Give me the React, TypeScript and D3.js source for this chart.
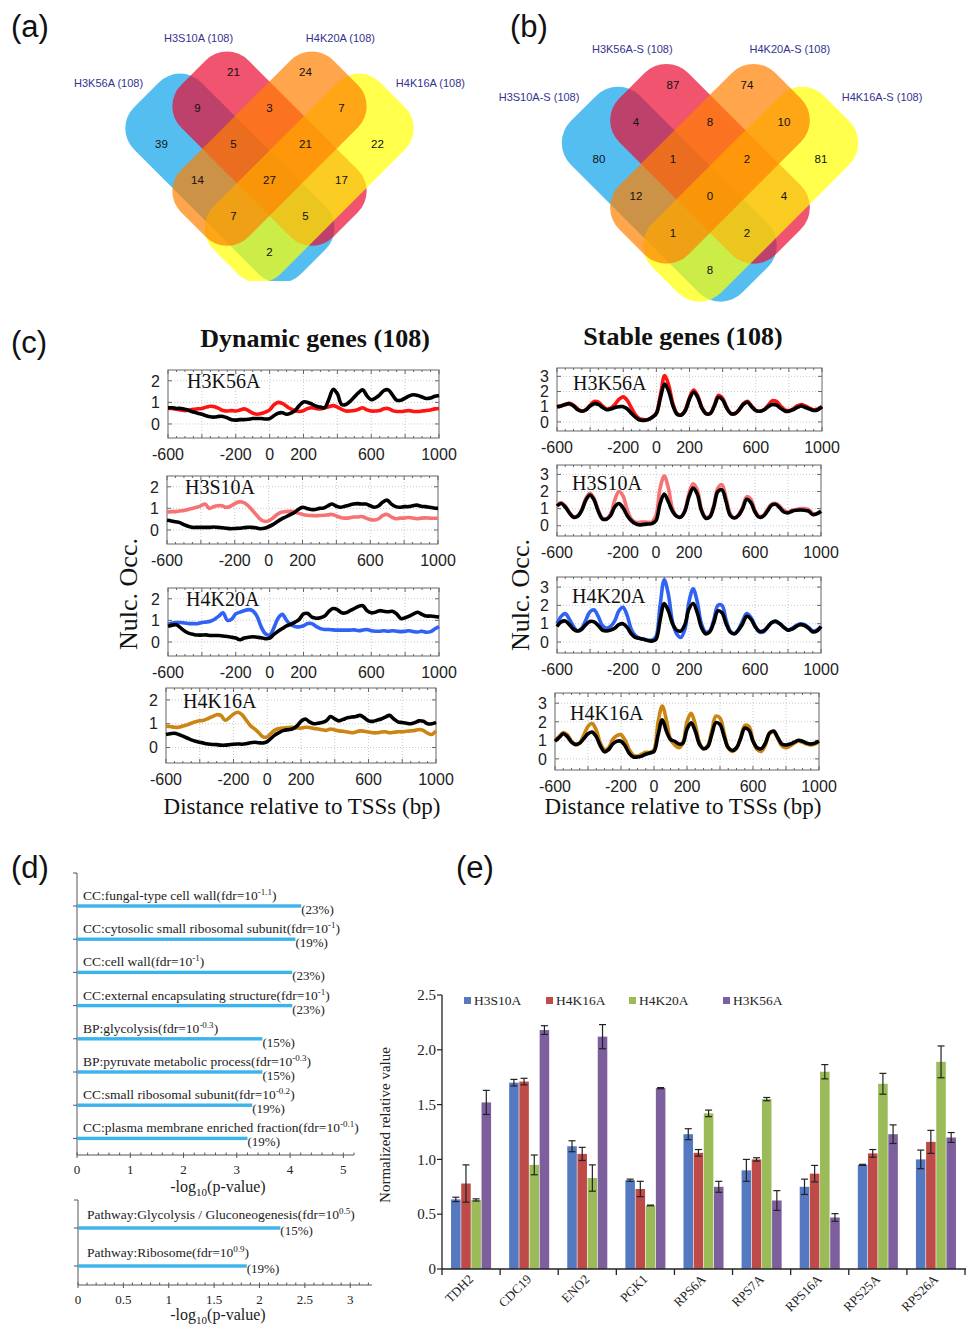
import React from 'react';
import * as d3 from 'd3';

const SERIF = '"Liberation Serif", "Times New Roman", serif';
const SANS = '"Liberation Sans", Arial, sans-serif';

// ---------- (a) / (b) Venn data ----------
const vennASets = ['H3K56A (108)', 'H3S10A (108)', 'H4K20A (108)', 'H4K16A (108)'];
const vennACounts = [21, 24, 9, 3, 7, 39, 5, 21, 22, 14, 27, 17, 7, 5, 2];
const vennBSets = ['H3S10A-S (108)', 'H3K56A-S (108)', 'H4K20A-S (108)', 'H4K16A-S (108)'];
const vennBCounts = [87, 74, 4, 8, 10, 80, 1, 2, 81, 12, 0, 4, 1, 2, 8];
// lattice cell (col,row) of each region in the 4-set diagram
const regionCells = [[-1, -2], [1, -2], [-2, -1], [0, -1], [2, -1], [-3, 0], [-1, 0], [1, 0], [3, 0], [-2, 1], [0, 1], [2, 1], [-1, 2], [1, 2], [0, 3]];

// ---------- (c) profile data ----------
const positions = [
  -600, -575, -550, -525, -500, -475, -450, -425, -400, -375, -350, -325, -300,
  -275, -250, -225, -200, -175, -150, -125, -100, -75, -50, -25, 0, 25,
  50, 75, 100, 125, 150, 175, 200, 225, 250, 275, 300, 325, 350,
  375, 400, 425, 450, 475, 500, 525, 550, 575, 600, 625, 650, 675,
  700, 725, 750, 775, 800, 825, 850, 875, 900, 925, 950, 975, 1000];
const xTickLabels = [-600, -200, 0, 200, 600, 1000];

const dynH3K56A_wt = [
  .75, .75, .72, .72, .68, .62, .55, .5, .45, .38, .33, .32, .35,
  .35, .28, .2, .18, .2, .2, .22, .25, .25, .25, .23, .25, .38,
  .5, .52, .45, .5, .62, .85, 1.02, 1.0, .92, .82, .78, .75, 1.15,
  1.6, 1.4, .9, .9, 1.05, 1.25, 1.45, 1.58, 1.3, 1.12, 1.2, 1.35, 1.55,
  1.58, 1.35, 1.1, 1.1, 1.2, 1.3, 1.35, 1.32, 1.25, 1.18, 1.2, 1.28, 1.32];
const dynH3K56A_mut = [
  .72, .72, .68, .65, .62, .65, .68, .7, .72, .78, .82, .8, .72,
  .62, .6, .62, .6, .65, .7, .62, .5, .45, .48, .55, .65, .88,
  1.0, .95, .82, .7, .62, .58, .62, .72, .75, .72, .7, .75, .8,
  .85, .78, .68, .6, .6, .62, .68, .75, .65, .6, .6, .62, .7,
  .72, .62, .58, .58, .6, .62, .58, .58, .6, .62, .65, .7, .72];
const dynH3S10A_mut = [
  .83, .85, .85, .88, .9, .95, 1.0, 1.05, 1.12, 1.2, 1.0, 1.08, 1.12,
  1.12, 1.05, 1.1, 1.22, 1.3, 1.28, 1.15, .95, .72, .5, .4, .42, .55,
  .72, .82, .85, .86, .85, .78, .72, .68, .67, .66, .67, .68, .7,
  .72, .65, .58, .55, .56, .6, .6, .62, .55, .48, .46, .52, .68,
  .72, .6, .52, .55, .55, .58, .55, .52, .55, .56, .55, .54, .55];
const dynH3S10A_wt = [
  .45, .42, .38, .34, .25, .17, .12, .12, .12, .12, .12, .14, .12,
  .1, .08, .06, .07, .08, .1, .12, .12, .1, .06, .08, .15, .25,
  .38, .5, .6, .7, .8, .95, 1.05, 1.0, .95, .95, 1.0, 1.02, 1.12,
  1.2, 1.1, 1.05, 1.1, 1.15, 1.2, 1.22, 1.2, 1.2, 1.12, 1.05, 1.12, 1.3,
  1.38, 1.2, 1.08, 1.05, 1.08, 1.08, 1.12, 1.15, 1.1, 1.08, 1.05, 1.02, 1.0];
const dynH4K20A_mut = [
  .82, .88, .9, .9, .88, .85, .85, .85, .9, .92, .96, 1.05, 1.2,
  1.35, 1.0, 1.05, 1.3, 1.38, 1.45, 1.5, 1.45, 1.2, .7, .38, .32, .65,
  1.1, 1.28, 1.0, .8, .72, .7, .75, .85, .85, .72, .62, .58, .58,
  .56, .55, .55, .55, .55, .56, .52, .55, .58, .52, .5, .5, .52,
  .5, .52, .5, .48, .5, .52, .48, .46, .5, .45, .48, .6, .72];
const dynH4K20A_wt = [
  .72, .78, .8, .65, .5, .4, .35, .32, .32, .33, .3, .3, .3,
  .28, .25, .22, .18, .1, .18, .22, .24, .22, .2, .15, .18, .35,
  .5, .62, .75, .82, .92, 1.05, 1.3, 1.32, 1.15, 1.1, 1.12, 1.2, 1.42,
  1.55, 1.5, 1.35, 1.35, 1.45, 1.55, 1.65, 1.68, 1.45, 1.35, 1.38, 1.45, 1.42,
  1.4, 1.42, 1.3, 1.08, 1.12, 1.2, 1.3, 1.38, 1.28, 1.2, 1.2, 1.18, 1.15];
const dynH4K16A_mut = [
  .9, .88, .85, .85, .9, .95, 1.02, 1.08, 1.12, 1.15, 1.22, 1.3, 1.38,
  1.35, 1.15, 1.25, 1.4, 1.48, 1.38, 1.15, .92, .78, .62, .45, .45, .62,
  .75, .8, .82, .84, .85, .82, .82, .85, .84, .8, .78, .75, .72,
  .78, .74, .7, .68, .65, .62, .65, .7, .68, .65, .62, .62, .65,
  .66, .62, .64, .66, .66, .68, .7, .72, .76, .72, .6, .55, .7];
const dynH4K16A_wt = [
  .55, .58, .6, .55, .48, .4, .32, .26, .22, .18, .15, .13, .12,
  .1, .1, .12, .14, .15, .14, .16, .2, .22, .2, .19, .25, .4,
  .55, .65, .72, .75, .78, .9, 1.1, 1.2, 1.08, 1.0, 1.02, 1.05, 1.12,
  1.3, 1.2, 1.12, 1.18, 1.25, 1.28, 1.3, 1.35, 1.25, 1.12, 1.1, 1.15, 1.2,
  1.28, 1.35, 1.2, 1.08, 1.05, 1.02, 1.0, 1.05, 1.12, 1.1, 1.0, 1.0, 1.06];

const stbH3K56A_mut = [
  1.0, 1.05, 1.15, 1.22, 1.1, .85, .72, .8, 1.1, 1.35, 1.3, 1.05, .85,
  .9, 1.15, 1.5, 1.65, 1.4, .9, .45, .2, .15, .15, .3, .6, 1.8,
  3.05, 2.4, 1.2, .55, .45, .8, 1.6, 2.1, 1.7, .95, .55, .55, 1.1,
  1.75, 1.55, .95, .55, .55, .8, 1.2, 1.35, 1.05, .75, .7, .8, 1.1,
  1.4, 1.35, 1.05, .8, .75, .85, 1.05, 1.15, 1.05, .9, .8, .85, 1.0];
const stbH3K56A_wt = [
  1.0, 1.05, 1.15, 1.2, 1.05, .8, .7, .8, 1.05, 1.2, 1.15, .95, .8,
  .85, .95, 1.0, 1.0, .85, .55, .3, .12, .1, .15, .3, .55, 1.6,
  2.5, 2.0, 1.05, .5, .45, .75, 1.5, 1.95, 1.6, .9, .55, .55, 1.05,
  1.62, 1.45, .9, .55, .55, .8, 1.15, 1.3, 1.0, .75, .7, .8, 1.0,
  1.15, 1.1, .9, .72, .7, .8, .95, 1.05, .95, .85, .75, .8, 1.0];
const stbH3S10A_mut = [
  1.2, 1.35, 1.15, .78, .52, .58, .95, 1.6, 1.9, 1.6, .9, .45, .42,
  .7, 1.5, 2.0, 1.75, .95, .4, .2, .2, .22, .2, .22, .6, 2.2,
  2.9, 2.2, 1.0, .55, .5, .9, 1.9, 2.45, 2.1, 1.0, .5, .55, 1.2,
  2.2, 2.4, 1.6, .7, .45, .65, 1.1, 1.7, 1.55, .9, .55, .6, .95,
  1.25, 1.3, 1.15, .9, .8, .9, .95, 1.0, 1.0, .95, .72, .72, .85];
const stbH3S10A_wt = [
  1.15, 1.3, 1.1, .75, .5, .55, .9, 1.5, 1.8, 1.5, .85, .4, .38,
  .6, 1.1, 1.3, 1.05, .6, .3, .12, .05, .08, .1, .12, .3, 1.3,
  1.85, 1.4, .85, .55, .5, .85, 1.7, 2.2, 1.85, .9, .45, .5, 1.1,
  2.0, 2.1, 1.4, .6, .45, .6, 1.0, 1.55, 1.35, .8, .5, .55, .85,
  1.2, 1.25, 1.05, .8, .75, .85, .9, .92, .9, .85, .65, .7, .85];
const stbH4K20A_mut = [
  1.0, 1.4, 1.55, 1.25, .85, .6, .75, 1.2, 1.65, 1.75, 1.4, .9, .75,
  .85, 1.15, 1.7, 1.9, 1.45, .7, .35, .2, .15, .1, .1, .3, 2.0,
  3.4, 2.6, 1.1, .45, .25, .7, 2.2, 2.9, 2.2, 1.0, .55, .6, 1.2,
  2.0, 2.0, 1.2, .6, .45, .7, 1.15, 1.55, 1.35, .9, .55, .55, .8,
  1.05, 1.1, 1.0, .8, .65, .75, .9, 1.0, .95, .8, .6, .65, .85];
const stbH4K20A_wt = [
  .85, 1.1, 1.15, .95, .7, .6, .7, .95, 1.12, 1.1, .9, .65, .6,
  .65, .75, .95, 1.0, .8, .45, .25, .2, .15, .08, .05, .15, 1.2,
  2.1, 1.7, 1.0, .65, .6, .95, 1.8, 2.1, 1.6, .8, .45, .55, 1.05,
  1.7, 1.6, 1.0, .55, .45, .65, 1.0, 1.4, 1.25, .85, .6, .6, .8,
  1.05, 1.15, 1.0, .8, .65, .7, .85, .95, .9, .75, .55, .6, .85];
const stbH4K16A_mut = [
  1.0, 1.2, 1.42, 1.3, .95, .75, .85, 1.3, 1.75, 1.9, 1.55, .85, .5,
  .6, 1.05, 1.25, 1.3, 1.0, .5, .2, .15, .25, .35, .35, .5, 2.0,
  2.85, 2.1, 1.05, .75, .6, .85, 2.0, 2.45, 1.85, .9, .55, .7, 1.5,
  2.3, 2.2, 1.4, .6, .4, .55, 1.15, 1.8, 1.75, 1.0, .5, .4, .75,
  1.35, 1.45, 1.1, .7, .6, .7, .85, .95, .9, .8, .75, .8, .95];
const stbH4K16A_wt = [
  .95, 1.15, 1.35, 1.2, .9, .78, .85, 1.1, 1.35, 1.45, 1.2, .7, .38,
  .5, .8, .95, .95, .7, .3, .1, .1, .15, .25, .32, .4, 1.3,
  2.1, 1.5, 1.05, .95, .8, .85, 1.6, 1.95, 1.5, .8, .55, .65, 1.3,
  1.95, 1.85, 1.2, .6, .45, .6, 1.1, 1.65, 1.55, .95, .6, .55, .85,
  1.4, 1.5, 1.15, .8, .75, .8, .9, 1.0, .95, .85, .8, .85, .95];

const markNames = ['H3K56A', 'H3S10A', 'H4K20A', 'H4K16A'];
const markColors = ['#FF1414', '#F77272', '#2F62F5', '#CC8512'];
const dynMut = [dynH3K56A_mut, dynH3S10A_mut, dynH4K20A_mut, dynH4K16A_mut];
const dynWt = [dynH3K56A_wt, dynH3S10A_wt, dynH4K20A_wt, dynH4K16A_wt];
const stbMut = [stbH3K56A_mut, stbH3S10A_mut, stbH4K20A_mut, stbH4K16A_mut];
const stbWt = [stbH3K56A_wt, stbH3S10A_wt, stbH4K20A_wt, stbH4K16A_wt];

// ---------- (d) enrichment data ----------
const goTerms = ['CC:fungal-type cell wall', 'CC:cytosolic small ribosomal subunit', 'CC:cell wall',
  'CC:external encapsulating structure', 'BP:glycolysis', 'BP:pyruvate metabolic process',
  'CC:small ribosomal subunit', 'CC:plasma membrane enriched fraction'];
const goFdrExp = ['-1.1', '-1', '-1', '-1', '-0.3', '-0.3', '-0.2', '-0.1'];
const goLogP = [4.21, 4.1, 4.04, 4.04, 3.48, 3.48, 3.29, 3.2];
const goPct = ['23%', '19%', '23%', '23%', '15%', '15%', '19%', '19%'];
const goTicks = [0, 1, 2, 3, 4, 5];
const pathTerms = ['Pathway:Glycolysis / Gluconeogenesis', 'Pathway:Ribosome'];
const pathFdrExp = ['0.5', '0.9'];
const pathLogP = [2.23, 1.86];
const pathPct = ['15%', '19%'];
const pathTicks = [0, 0.5, 1, 1.5, 2, 2.5, 3];

// ---------- (e) qPCR data ----------
const genes = ['TDH2', 'CDC19', 'ENO2', 'PGK1', 'RPS6A', 'RPS7A', 'RPS16A', 'RPS25A', 'RPS26A'];
const qSeries = ['H3S10A', 'H4K16A', 'H4K20A', 'H3K56A'];
const qH3S10A = [0.635, 1.70, 1.12, 0.81, 1.23, 0.90, 0.75, 0.95, 1.00];
const qH3S10AErr = [0.02, 0.03, 0.05, 0.01, 0.05, 0.10, 0.07, 0.005, 0.085];
const qH4K16A = [0.78, 1.71, 1.05, 0.73, 1.06, 1.00, 0.87, 1.055, 1.16];
const qH4K16AErr = [0.17, 0.03, 0.06, 0.07, 0.03, 0.015, 0.075, 0.035, 0.105];
const qH4K20A = [0.63, 0.95, 0.83, 0.58, 1.42, 1.55, 1.80, 1.69, 1.89];
const qH4K20AErr = [0.01, 0.09, 0.12, 0.003, 0.03, 0.015, 0.065, 0.095, 0.145];
const qH3K56A = [1.52, 2.18, 2.12, 1.65, 0.75, 0.625, 0.47, 1.23, 1.20];
const qH3K56AErr = [0.11, 0.04, 0.11, 0.005, 0.05, 0.09, 0.035, 0.085, 0.045];
const qValues = [qH3S10A, qH4K16A, qH4K20A, qH3K56A];
const qErrors = [qH3S10AErr, qH4K16AErr, qH4K20AErr, qH3K56AErr];
const qColors = ['#5479C0', '#BE4B48', '#9BBB59', '#7D5F9E'];
const qTicks = [0, 0.5, 1.0, 1.5, 2.0, 2.5];

// ---------------- components ----------------
function Venn({ cx, cy, s, sets, counts, labelPos, clipY, id }: any) {
  const k = s / 36;
  const shapes = [
    { dx: -1.1, dy: 0.95, l: 236, w: 95, rot: 45, fill: '#0CA2EA' },
    { dx: 0, dy: 0.13, l: 215, w: 95, rot: 45, fill: '#E90C30' },
    { dx: 1.1, dy: 0.95, l: 236, w: 95, rot: -45, fill: '#FFFF00' },
    { dx: 0, dy: 0.13, l: 215, w: 95, rot: -45, fill: '#FF8000' },
  ];
  const gx = d3.scaleLinear().domain([0, 1]).range([cx, cx + s]);
  const gy = d3.scaleLinear().domain([0, 1]).range([cy, cy + s]);
  return (
    <g>
      {clipY ? (
        <defs>
          <clipPath id={id}><rect x={cx - 300} y={0} width={600} height={clipY} /></clipPath>
        </defs>
      ) : null}
      <g clipPath={clipY ? `url(#${id})` : undefined}>
        {shapes.map((sh, i) => (
          <rect key={i} x={-sh.l * k / 2} y={-sh.w * k / 2} width={sh.l * k} height={sh.w * k} rx={30 * k} ry={30 * k}
            fill={sh.fill} fillOpacity={0.7}
            transform={`translate(${gx(sh.dx)},${gy(sh.dy)}) rotate(${sh.rot})`} />
        ))}
      </g>
      {counts.map((c: number, i: number) => (
        <text key={i} x={gx(regionCells[i][0])} y={gy(regionCells[i][1])} dy="0.36em" textAnchor="middle"
          fontFamily={SANS} fontSize={11.5} fill="#111">{c}</text>
      ))}
      {sets.map((name: string, i: number) => (
        <text key={name} x={gx(labelPos[i][0])} y={gy(labelPos[i][1])} dy="0.36em" textAnchor="middle"
          fontFamily={SANS} fontSize={11} fill="#33338F">{name}</text>
      ))}
    </g>
  );
}

function Profile({ row, label, mut, wt, color, yDomain, yTicks }: any) {
  const x = d3.scaleLinear().domain([-600, 1000]).range([row.x0, row.x1]);
  const y = d3.scaleLinear().domain(yDomain).range([row.bottom, row.top]);
  const line = d3.line<number>().x((_, i) => x(positions[i])).y(d => y(d)).curve(d3.curveCatmullRom.alpha(0.5));
  const minor = d3.range(-600, 1001, 50);
  const grid = d3.range(-400, 1000, 200);
  return (
    <g>
      <rect x={row.x0} y={row.top} width={row.x1 - row.x0} height={row.bottom - row.top} fill="#fff" stroke="#666" />
      {grid.map(v => <line key={'g' + v} x1={x(v)} x2={x(v)} y1={row.top} y2={row.bottom} stroke="#bbb" strokeWidth={0.8} strokeDasharray="1,2" />)}
      {yTicks.map((v: number) => <line key={'h' + v} x1={row.x0} x2={row.x1} y1={y(v)} y2={y(v)} stroke="#bbb" strokeWidth={0.8} strokeDasharray="1,2" />)}
      {minor.map(v => {
        const L = v % 200 === 0 ? 4 : 2;
        return (
          <g key={'t' + v}>
            <line x1={x(v)} x2={x(v)} y1={row.top} y2={row.top + L} stroke="#666" />
            <line x1={x(v)} x2={x(v)} y1={row.bottom} y2={row.bottom - L} stroke="#666" />
          </g>
        );
      })}
      {yTicks.map((v: number) => (
        <g key={'yt' + v}>
          <line x1={row.x0} x2={row.x0 + 4} y1={y(v)} y2={y(v)} stroke="#666" />
          <line x1={row.x1} x2={row.x1 - 4} y1={y(v)} y2={y(v)} stroke="#666" />
        </g>
      ))}
      <path d={line(mut) || ''} fill="none" stroke={color} strokeWidth={3.6} strokeLinejoin="round" />
      <path d={line(wt) || ''} fill="none" stroke="#000" strokeWidth={3.6} strokeLinejoin="round" />
      <text x={row.x0 + row.labelDx} y={row.top + row.labelDy} fontFamily={SERIF} fontSize={20} fill="#111">{label}</text>
      {xTickLabels.map(v => (
        <text key={'xl' + v} x={x(v)} y={row.bottom + 22} textAnchor="middle" fontFamily={SANS} fontSize={16} fill="#222">{v}</text>
      ))}
      {yTicks.map((v: number) => (
        <text key={'yl' + v} x={row.x0 - 8} y={y(v)} dy="0.36em" textAnchor="end" fontFamily={SANS} fontSize={16} fill="#222">{v}</text>
      ))}
    </g>
  );
}

function Enrich({ terms, exps, vals, pcts, ticks, domain, xRange, yTop, yBottom, barRange, minorStep, textDy, pctDy, textDx, titleY }: any) {
  const x = d3.scaleLinear().domain(domain).range(xRange);
  const y = d3.scalePoint<string>().domain(terms).range(barRange);
  const minor = d3.range(0, domain[1] + 1e-9, minorStep);
  return (
    <g fontFamily={SERIF} fill="#222">
      <line x1={xRange[0]} x2={xRange[0]} y1={yTop} y2={yBottom} stroke="#555" />
      <line x1={xRange[0] - 4} x2={xRange[0]} y1={yTop} y2={yTop} stroke="#555" />
      <line x1={xRange[0]} x2={xRange[1]} y1={yBottom} y2={yBottom} stroke="#555" />
      {minor.map((v: number, i: number) => (
        <line key={'m' + i} x1={x(v)} x2={x(v)} y1={yBottom} y2={yBottom - 2.5} stroke="#555" />
      ))}
      {ticks.map((v: number) => (
        <g key={'t' + v}>
          <line x1={x(v)} x2={x(v)} y1={yBottom} y2={yBottom + 3} stroke="#555" />
          <text x={x(v)} y={yBottom + 19} textAnchor="middle" fontSize={13}>{v}</text>
        </g>
      ))}
      {terms.map((t: string, i: number) => {
        const by = y(t) as number;
        return (
          <g key={t}>
            <line x1={xRange[0] - 4} x2={xRange[0]} y1={by} y2={by} stroke="#555" />
            <rect x={x(0)} y={by - 1.7} width={x(vals[i]) - x(0)} height={3.4} fill="#3BB3EC" />
            <text x={xRange[0] + textDx} y={by + textDy} fontSize={13.5}>
              {t}(fdr=10<tspan dy={-5} fontSize={9}>{exps[i]}</tspan><tspan dy={5}>)</tspan>
            </text>
            <text x={x(vals[i])} y={by + pctDy} fontSize={13}>({pcts[i]})</text>
          </g>
        );
      })}
      <text x={218} y={titleY} textAnchor="middle" fontSize={16}>
        -log<tspan dy={4} fontSize={11}>10</tspan><tspan dy={-4}>(p-value)</tspan>
      </text>
    </g>
  );
}

function QBars() {
  const x0 = d3.scaleBand<string>().domain(genes).range([442, 965]).paddingInner(0.29).paddingOuter(0.145);
  const x1 = d3.scaleBand<string>().domain(qSeries).range([0, x0.bandwidth()]).padding(0.06);
  const y = d3.scaleLinear().domain([0, 2.5]).range([1269, 995]);
  const legendX = [464, 546, 629, 723];
  const fmt = (v: number) => (v === 0 ? '0' : d3.format('.1f')(v));
  return (
    <g fontFamily={SERIF} fill="#222">
      {genes.map((g, gi) => (
        <g key={g} transform={`translate(${x0(g)},0)`}>
          {qSeries.map((s, si) => (
            <rect key={s} x={x1(s)} y={y(qValues[si][gi])} width={x1.bandwidth()} height={y(0) - y(qValues[si][gi])} fill={qColors[si]} />
          ))}
          {qSeries.map((s, si) => {
            const cx = (x1(s) as number) + x1.bandwidth() / 2;
            const v = qValues[si][gi], e = qErrors[si][gi];
            return (
              <g key={'e' + s} stroke="#222" strokeWidth={1.2}>
                <line x1={cx} x2={cx} y1={y(v - e)} y2={y(v + e)} />
                <line x1={cx - 3.5} x2={cx + 3.5} y1={y(v + e)} y2={y(v + e)} />
                <line x1={cx - 3.5} x2={cx + 3.5} y1={y(v - e)} y2={y(v - e)} />
              </g>
            );
          })}
        </g>
      ))}
      <line x1={442} x2={442} y1={995} y2={1269} stroke="#222" strokeWidth={1.3} />
      <line x1={442} x2={966} y1={1269} y2={1269} stroke="#222" strokeWidth={1.3} />
      {qTicks.map(v => (
        <g key={v}>
          <line x1={437} x2={442} y1={y(v)} y2={y(v)} stroke="#222" strokeWidth={1.2} />
          <text x={436} y={y(v)} dy="0.35em" textAnchor="end" fontSize={15}>{fmt(v)}</text>
        </g>
      ))}
      {d3.range(genes.length + 1).map(i => {
        const bx = 442 + x0.step() * i;
        return <line key={'b' + i} x1={bx} x2={bx} y1={1269} y2={1275} stroke="#222" strokeWidth={1.3} />;
      })}
      {genes.map(g => {
        const gx = (x0(g) as number) + x0.bandwidth() / 2 + 3;
        return (
          <text key={'l' + g} x={gx} y={1280} textAnchor="end" fontSize={13} transform={`rotate(-45,${gx},1280)`}>{g}</text>
        );
      })}
      <text x={390} y={1125} textAnchor="middle" fontSize={15} transform="rotate(-90,390,1125)">Normalized relative value</text>
      {qSeries.map((s, si) => (
        <g key={'lg' + s}>
          <rect x={legendX[si]} y={997} width={7} height={7} fill={qColors[si]} />
          <text x={legendX[si] + 10} y={1005} fontSize={13.5}>{s}</text>
        </g>
      ))}
    </g>
  );
}

const LEFT_ROWS = [
  { x0: 168, x1: 439, top: 370, bottom: 438, labelDx: 19, labelDy: 18 },
  { x0: 167, x1: 438, top: 476, bottom: 544, labelDx: 18, labelDy: 18 },
  { x0: 168, x1: 439, top: 588, bottom: 656, labelDx: 18, labelDy: 18 },
  { x0: 166, x1: 436, top: 688, bottom: 763, labelDx: 17, labelDy: 20 },
];
const RIGHT_ROWS = [
  { x0: 557, x1: 822, top: 368, bottom: 431, labelDx: 16, labelDy: 22 },
  { x0: 557, x1: 821, top: 465, bottom: 536, labelDx: 15, labelDy: 25 },
  { x0: 557, x1: 821, top: 577, bottom: 653, labelDx: 15, labelDy: 26 },
  { x0: 555, x1: 819, top: 693, bottom: 770, labelDx: 15, labelDy: 27 },
];

export default function App() {
  return (
    <svg width={966} height={1327} viewBox="0 0 966 1327" style={{ position: 'absolute', left: 0, top: 0, background: '#fff' }}>
      <rect x={0} y={0} width={966} height={1327} fill="#fff" />
      {/* panel letters */}
      <g fontFamily={SANS} fontSize={31} fill="#111">
        <text x={11} y={37}>(a)</text>
        <text x={510} y={37}>(b)</text>
        <text x={11} y={353}>(c)</text>
        <text x={11} y={878}>(d)</text>
        <text x={456} y={878}>(e)</text>
      </g>

      <Venn cx={269.5} cy={144} s={36} sets={vennASets} counts={vennACounts} clipY={281} id="clipA"
        labelPos={[[-4.47, -1.69], [-1.97, -2.94], [1.97, -2.94], [4.47, -1.69]]} />
      <Venn cx={710} cy={159} s={37} sets={vennBSets} counts={vennBCounts} clipY={0} id="clipB"
        labelPos={[[-4.62, -1.68], [-2.1, -2.97], [2.16, -2.97], [4.65, -1.68]]} />

      {/* panel c */}
      <text x={315} y={347} textAnchor="middle" fontFamily={SERIF} fontWeight="bold" fontSize={26} fill="#111">Dynamic genes (108)</text>
      <text x={683} y={345} textAnchor="middle" fontFamily={SERIF} fontWeight="bold" fontSize={26} fill="#111">Stable genes (108)</text>
      {markNames.map((m, i) => (
        <Profile key={'d' + m} row={LEFT_ROWS[i]} label={m} mut={dynMut[i]} wt={dynWt[i]} color={markColors[i]}
          yDomain={[-0.65, 2.5]} yTicks={[0, 1, 2]} />
      ))}
      {markNames.map((m, i) => (
        <Profile key={'s' + m} row={RIGHT_ROWS[i]} label={m} mut={stbMut[i]} wt={stbWt[i]} color={markColors[i]}
          yDomain={[-0.6, 3.55]} yTicks={[0, 1, 2, 3]} />
      ))}
      <text x={137} y={594} textAnchor="middle" fontFamily={SERIF} fontSize={26} fill="#111" transform="rotate(-90,137,594)">Nulc. Occ.</text>
      <text x={529} y={595} textAnchor="middle" fontFamily={SERIF} fontSize={26} fill="#111" transform="rotate(-90,529,595)">Nulc. Occ.</text>
      <text x={302} y={814} textAnchor="middle" fontFamily={SERIF} fontSize={23} fill="#111">Distance relative to TSSs (bp)</text>
      <text x={683} y={814} textAnchor="middle" fontFamily={SERIF} fontSize={23} fill="#111">Distance relative to TSSs (bp)</text>

      {/* panel d */}
      <Enrich terms={goTerms} exps={goFdrExp} vals={goLogP} pcts={goPct} ticks={goTicks} domain={[0, 5.2]}
        xRange={[77, 354]} yTop={873} yBottom={1155} barRange={[906, 1138.4]} minorStep={0.2}
        textDy={-6} pctDy={8} textDx={6} titleY={1192} />
      <Enrich terms={pathTerms} exps={pathFdrExp} vals={pathLogP} pcts={pathPct} ticks={pathTicks} domain={[0, 3.24]}
        xRange={[78, 372]} yTop={1200} yBottom={1285} barRange={[1228, 1266]} minorStep={0.1}
        textDy={-9} pctDy={7} textDx={9} titleY={1320} />

      {/* panel e */}
      <QBars />
    </svg>
  );
}
